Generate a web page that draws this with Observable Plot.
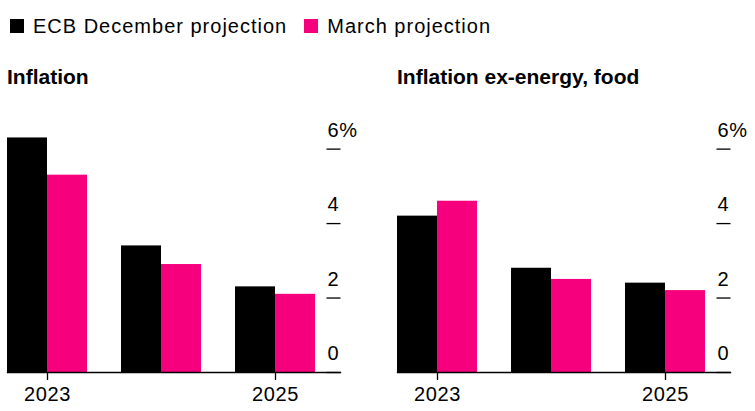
<!DOCTYPE html>
<html>
<head>
<meta charset="utf-8">
<script src="https://cdn.jsdelivr.net/npm/d3@7"></script>
<script src="https://cdn.jsdelivr.net/npm/@observablehq/plot@0.6"></script>
<style>
  html, body { margin: 0; padding: 0; background: #fff; }
  body { width: 755px; height: 411px; position: relative; overflow: hidden;
         font-family: "Liberation Sans", Arial, Helvetica, sans-serif; color: #000; }
  .legend { position: absolute; top: 14px; left: 10px; height: 24px; line-height: 24px;
            font-size: 20px; letter-spacing: 1px; display: flex; align-items: center; white-space: nowrap; }
  .legend .item { display: flex; align-items: center; margin-right: 17px; }
  .legend .sw { width: 14px; height: 14px; margin-right: 9px; display: inline-block; }
  .title { position: absolute; top: 65px; height: 24px; line-height: 24px; font-size: 21px;
           font-weight: bold; white-space: nowrap; }
  .panel { position: absolute; top: 100px; }
</style>
</head>
<body>
<div class="legend" id="legend"></div>
<div class="title" id="t1" style="left:7px"></div>
<div class="title" id="t2" style="left:397px"></div>
<div class="panel" id="p1" style="left:7px"></div>
<div class="panel" id="p2" style="left:397px"></div>
<script>
// ---- data ----
const years = [2023, 2024, 2025];
const seriesKeys = ["dec", "mar"];
const seriesNames = ["ECB December projection", "March projection"];
const seriesColors = ["#000000", "#f7007e"];
const panelTitles = ["Inflation", "Inflation ex-energy, food"];
const headlineDec = [6.3, 3.4, 2.3];
const headlineMar = [5.3, 2.9, 2.1];
const coreDec = [4.2, 2.8, 2.4];
const coreMar = [4.6, 2.5, 2.2];
const yTicks = [0, 2, 4, 6];
const xTickYears = [2023, 2025];

// legend
const legend = document.getElementById("legend");
seriesNames.forEach((name, i) => {
  const item = document.createElement("span");
  item.className = "item";
  const sw = document.createElement("span");
  sw.className = "sw";
  sw.style.background = seriesColors[i];
  item.appendChild(sw);
  item.appendChild(document.createTextNode(name));
  legend.appendChild(item);
});
document.getElementById("t1").textContent = panelTitles[0];
document.getElementById("t2").textContent = panelTitles[1];

function table(dec, mar) {
  const rows = [];
  years.forEach((y, i) => {
    rows.push({year: y, series: "dec", value: dec[i]});
    rows.push({year: y, series: "mar", value: mar[i]});
  });
  return rows;
}

function chart(rows) {
  return Plot.plot({
    width: 355,
    height: 305,
    marginLeft: 0,
    marginRight: 47,
    marginTop: 30,
    marginBottom: 33,
    style: {fontFamily: "'Liberation Sans', Arial, Helvetica, sans-serif", fontSize: "20px",
            background: "transparent", overflow: "visible", color: "#000", letterSpacing: "0.6px"},
    fx: {domain: years, paddingInner: 0.3, paddingOuter: 0, label: null},
    x: {domain: seriesKeys, padding: 0, axis: null},
    y: {domain: [0, 6.5], label: null},
    color: {domain: seriesKeys, range: seriesColors},
    marks: [
      Plot.barY(rows, {fx: "year", x: "series", y: "value", fill: "series"}),
      Plot.frame({facet: "super", anchor: "bottom", stroke: "#000", strokeWidth: 1.3, insetRight: -25}),
      Plot.axisY({anchor: "right", ticks: yTicks, tickSize: 14, dx: 10.5, fill: "none",
                  strokeWidth: 1.3, label: null}),
      Plot.axisY({anchor: "right", ticks: yTicks, tickSize: 0, tickPadding: 0, dx: 12, dy: -18.5,
                  tickFormat: d => d === 6 ? "6%" : String(d), fill: "#000", label: null}),
      Plot.axisFx({anchor: "bottom", ticks: xTickYears, tickSize: 8, tickPadding: 6,
                   strokeWidth: 1.3, fill: "#000", tickFormat: d => String(d), label: null})
    ]
  });
}

document.getElementById("p1").appendChild(chart(table(headlineDec, headlineMar)));
document.getElementById("p2").appendChild(chart(table(coreDec, coreMar)));
</script>
</body>
</html>
